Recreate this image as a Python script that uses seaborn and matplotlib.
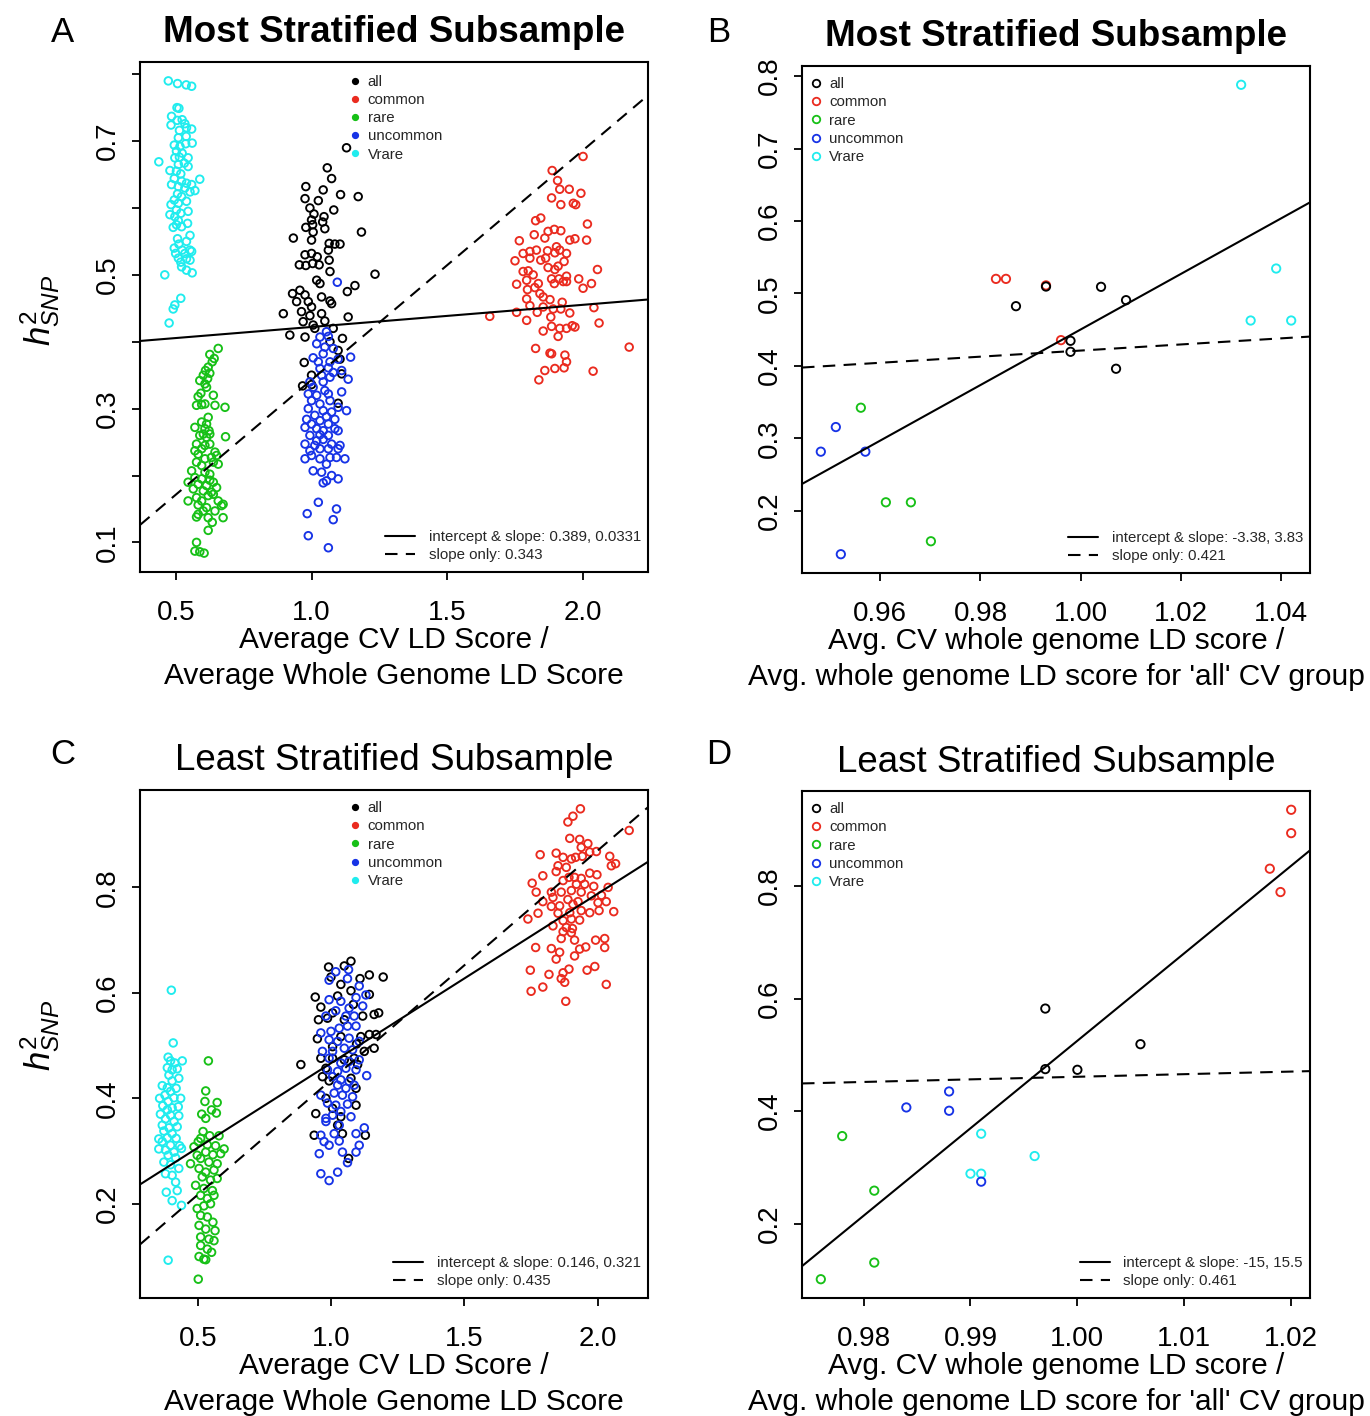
import numpy as np
import pandas as pd
import matplotlib
matplotlib.use("Agg")
import matplotlib.pyplot as plt
import seaborn as sns
from matplotlib.lines import Line2D

# ---------------- data (x, y) pairs ----------------
GROUPS = ["all", "common", "rare", "uncommon", "Vrare"]

# Panel A: Most Stratified Subsample (x = CV LD / whole-genome LD)
A_all = [(1.129,0.690),(1.058,0.660),(1.074,0.644),(0.979,0.632),(1.043,0.627),(1.107,0.620),(1.172,0.617),(0.976,0.614),(1.025,0.611),(0.994,0.600),(1.082,0.597),(1.009,0.591),(1.046,0.587),(1.000,0.582),(0.979,0.571),(1.004,0.575),(1.041,0.579),(1.184,0.564),(1.006,0.564),(1.049,0.569),(0.933,0.555),(1.000,0.552),(1.065,0.547),(1.086,0.546),(1.105,0.546),(1.062,0.537),(0.976,0.530),(1.000,0.532),(1.021,0.527),(0.955,0.515),(0.979,0.514),(1.004,0.517),(1.028,0.515),(1.065,0.522),(1.068,0.505),(1.019,0.492),(1.031,0.487),(1.234,0.501),(1.132,0.475),(1.160,0.484),(0.930,0.472),(0.957,0.477),(0.976,0.470),(0.945,0.460),(0.988,0.460),(1.000,0.452),(1.037,0.467),(1.068,0.461),(1.074,0.457),(0.896,0.442),(0.963,0.445),(0.994,0.439),(1.037,0.442),(1.135,0.437),(0.969,0.430),(1.006,0.425),(1.049,0.431),(1.080,0.420),(0.920,0.410),(0.976,0.407),(1.012,0.420),(1.114,0.405),(1.068,0.400),(1.098,0.387),(0.973,0.369),(1.105,0.374),(1.000,0.350),(1.111,0.352),(0.967,0.334),(1.000,0.336),(1.098,0.308)]
A_common = [(2.001,0.677),(1.887,0.656),(1.907,0.641),(1.915,0.628),(1.950,0.628),(1.993,0.622),(1.885,0.615),(1.919,0.605),(1.965,0.607),(1.974,0.605),(1.826,0.581),(1.845,0.585),(2.017,0.576),(1.821,0.560),(1.860,0.555),(1.872,0.565),(1.895,0.568),(1.919,0.566),(1.952,0.552),(1.971,0.554),(2.014,0.552),(1.766,0.551),(1.780,0.532),(1.805,0.535),(1.829,0.537),(1.870,0.536),(1.903,0.542),(1.940,0.532),(1.750,0.521),(1.805,0.525),(1.845,0.522),(1.863,0.525),(1.897,0.533),(1.915,0.537),(1.931,0.520),(1.780,0.505),(1.799,0.506),(1.817,0.500),(1.872,0.511),(1.897,0.508),(1.909,0.513),(2.054,0.508),(1.756,0.486),(1.793,0.492),(1.836,0.487),(1.885,0.494),(1.912,0.494),(1.940,0.498),(1.985,0.494),(2.001,0.480),(2.032,0.487),(1.796,0.478),(1.823,0.481),(1.842,0.472),(1.854,0.467),(1.895,0.487),(1.928,0.490),(1.940,0.490),(1.793,0.464),(1.879,0.463),(1.924,0.459),(1.657,0.438),(1.756,0.444),(1.805,0.454),(1.832,0.444),(1.854,0.452),(1.891,0.449),(1.919,0.449),(2.041,0.451),(1.793,0.432),(1.882,0.437),(1.952,0.443),(1.854,0.416),(1.885,0.423),(1.909,0.408),(1.915,0.420),(1.940,0.420),(1.961,0.424),(1.971,0.422),(2.060,0.428),(1.826,0.390),(1.879,0.383),(1.885,0.382),(1.934,0.380),(1.940,0.370),(1.860,0.357),(1.897,0.360),(1.931,0.361),(2.038,0.356),(1.838,0.343),(2.171,0.392)]
A_rare = [(0.656,0.390),(0.625,0.381),(0.641,0.375),(0.634,0.370),(0.619,0.362),(0.609,0.357),(0.625,0.353),(0.601,0.350),(0.617,0.345),(0.588,0.342),(0.607,0.337),(0.613,0.332),(0.592,0.323),(0.638,0.320),(0.582,0.318),(0.607,0.307),(0.576,0.305),(0.595,0.306),(0.644,0.305),(0.681,0.302),(0.619,0.287),(0.595,0.280),(0.613,0.277),(0.570,0.272),(0.607,0.270),(0.622,0.267),(0.625,0.262),(0.601,0.262),(0.588,0.260),(0.613,0.257),(0.683,0.258),(0.576,0.247),(0.607,0.245),(0.625,0.247),(0.570,0.237),(0.595,0.240),(0.582,0.232),(0.644,0.235),(0.631,0.227),(0.650,0.230),(0.607,0.225),(0.576,0.220),(0.638,0.220),(0.656,0.217),(0.595,0.215),(0.558,0.207),(0.607,0.205),(0.625,0.202),(0.570,0.197),(0.595,0.195),(0.625,0.193),(0.638,0.190),(0.545,0.190),(0.582,0.187),(0.613,0.185),(0.650,0.182),(0.564,0.180),(0.601,0.177),(0.631,0.175),(0.576,0.167),(0.619,0.170),(0.545,0.162),(0.595,0.162),(0.656,0.162),(0.638,0.172),(0.582,0.156),(0.613,0.152),(0.668,0.155),(0.674,0.157),(0.601,0.147),(0.582,0.142),(0.576,0.138),(0.644,0.147),(0.619,0.137),(0.634,0.130),(0.674,0.137),(0.619,0.118),(0.576,0.100),(0.570,0.087),(0.588,0.086),(0.604,0.084)]
A_uncommon = [(1.055,0.415),(1.031,0.407),(1.062,0.408),(1.019,0.397),(1.049,0.392),(1.080,0.390),(1.043,0.382),(1.006,0.376),(1.025,0.370),(1.068,0.370),(1.098,0.374),(1.144,0.377),(1.031,0.360),(1.062,0.361),(1.080,0.354),(1.111,0.357),(1.037,0.350),(1.068,0.347),(1.135,0.344),(0.994,0.340),(1.043,0.340),(1.006,0.332),(1.049,0.327),(1.111,0.325),(0.988,0.322),(1.019,0.320),(1.062,0.322),(1.000,0.312),(1.031,0.307),(1.068,0.312),(1.098,0.302),(1.129,0.297),(0.988,0.300),(1.043,0.297),(1.074,0.295),(1.012,0.290),(1.055,0.288),(1.086,0.284),(0.982,0.284),(1.031,0.282),(1.000,0.277),(1.062,0.277),(0.976,0.272),(1.019,0.270),(1.086,0.270),(1.043,0.267),(1.098,0.267),(0.994,0.260),(1.031,0.261),(1.062,0.260),(1.019,0.252),(1.043,0.254),(0.976,0.247),(1.012,0.245),(1.074,0.247),(1.105,0.245),(0.994,0.237),(1.031,0.240),(1.062,0.240),(1.098,0.240),(0.976,0.225),(1.000,0.230),(1.031,0.225),(1.068,0.227),(1.092,0.227),(1.123,0.225),(1.055,0.217),(1.006,0.207),(1.037,0.205),(1.074,0.200),(1.098,0.195),(1.043,0.189),(1.055,0.192),(1.025,0.160),(1.092,0.150),(0.984,0.143),(1.080,0.134),(0.988,0.110),(1.062,0.092),(1.095,0.489)]
A_vrare = [(0.472,0.790),(0.506,0.786),(0.538,0.784),(0.558,0.782),(0.504,0.750),(0.511,0.749),(0.484,0.737),(0.505,0.731),(0.523,0.732),(0.533,0.726),(0.558,0.718),(0.482,0.724),(0.513,0.716),(0.539,0.720),(0.509,0.705),(0.538,0.707),(0.560,0.697),(0.494,0.694),(0.515,0.692),(0.536,0.696),(0.502,0.685),(0.523,0.682),(0.545,0.675),(0.496,0.675),(0.513,0.676),(0.437,0.669),(0.509,0.665),(0.531,0.667),(0.545,0.662),(0.478,0.656),(0.502,0.655),(0.518,0.651),(0.588,0.643),(0.494,0.644),(0.521,0.640),(0.539,0.637),(0.558,0.635),(0.484,0.635),(0.509,0.632),(0.533,0.630),(0.570,0.626),(0.552,0.624),(0.506,0.621),(0.521,0.617),(0.494,0.612),(0.539,0.610),(0.509,0.607),(0.482,0.605),(0.502,0.597),(0.545,0.595),(0.518,0.592),(0.478,0.590),(0.496,0.587),(0.509,0.581),(0.543,0.577),(0.502,0.575),(0.490,0.571),(0.521,0.572),(0.552,0.559),(0.506,0.554),(0.539,0.550),(0.511,0.546),(0.494,0.540),(0.523,0.537),(0.552,0.537),(0.499,0.532),(0.533,0.532),(0.558,0.535),(0.509,0.525),(0.539,0.524),(0.518,0.519),(0.552,0.522),(0.521,0.512),(0.539,0.507),(0.560,0.503),(0.459,0.500),(0.518,0.465),(0.496,0.455),(0.490,0.449),(0.475,0.428)]

# Panel B: Most Stratified Subsample, group means
B_all = [(0.9871,0.4823),(0.9931,0.5094),(1.0041,0.5090),(1.0091,0.4906),(0.9980,0.4345),(0.9980,0.4193),(1.0071,0.3959)]
B_common = [(0.9831,0.5200),(0.9851,0.5200),(0.9931,0.5110),(0.9961,0.4354)]
B_rare = [(0.9561,0.3421),(0.9611,0.2115),(0.9661,0.2115),(0.9701,0.1577)]
B_uncommon = [(0.9511,0.3154),(0.9481,0.2814),(0.9570,0.2814),(0.9521,0.1398)]
B_vrare = [(1.0321,0.7880),(1.0391,0.5343),(1.0340,0.4625),(1.0421,0.4625)]

# Panel C: Least Stratified Subsample
C_all = [(1.074,0.660),(0.990,0.649),(1.049,0.651),(1.143,0.634),(1.195,0.630),(0.999,0.630),(1.108,0.627),(1.036,0.616),(1.074,0.604),(0.940,0.592),(1.024,0.594),(1.143,0.597),(0.961,0.573),(1.083,0.578),(1.005,0.562),(1.178,0.562),(1.161,0.559),(0.952,0.549),(0.986,0.552),(1.049,0.549),(1.118,0.556),(0.948,0.513),(1.036,0.517),(1.111,0.517),(1.143,0.521),(1.168,0.521),(1.005,0.498),(1.095,0.503),(1.161,0.495),(0.886,0.464),(0.961,0.476),(1.005,0.476),(1.049,0.473),(1.124,0.489),(1.086,0.476),(0.980,0.457),(1.099,0.464),(0.967,0.441),(0.992,0.433),(1.074,0.438),(0.980,0.400),(1.093,0.419),(0.942,0.371),(1.005,0.381),(1.093,0.387),(1.024,0.349),(1.036,0.365),(0.936,0.330),(1.128,0.330),(1.065,0.286),(1.042,0.333)]
C_common = [(1.935,0.949),(1.907,0.935),(1.888,0.924),(2.118,0.908),(1.895,0.893),(1.932,0.891),(1.963,0.883),(1.938,0.876),(1.784,0.862),(1.844,0.865),(1.870,0.857),(1.901,0.854),(1.917,0.857),(1.942,0.859),(1.970,0.867),(1.995,0.868),(2.045,0.859),(2.051,0.841),(2.067,0.845),(1.851,0.841),(1.882,0.838),(1.794,0.822),(1.844,0.830),(1.892,0.819),(1.913,0.819),(1.938,0.817),(1.970,0.827),(1.997,0.824),(1.754,0.808),(1.870,0.813),(1.920,0.806),(1.951,0.806),(1.985,0.802),(2.039,0.800),(1.769,0.791),(1.826,0.791),(1.863,0.791),(1.901,0.794),(1.938,0.791),(1.976,0.784),(2.014,0.785),(1.794,0.773),(1.832,0.781),(1.888,0.777),(1.926,0.773),(2.001,0.771),(2.032,0.773),(1.826,0.764),(1.857,0.765),(1.907,0.768),(1.776,0.751),(1.851,0.751),(1.895,0.752),(1.938,0.756),(1.970,0.752),(2.005,0.756),(2.060,0.754),(1.738,0.740),(1.870,0.737),(1.901,0.740),(1.932,0.738),(1.832,0.727),(1.882,0.724),(1.905,0.722),(1.870,0.716),(1.901,0.714),(1.767,0.686),(1.863,0.703),(1.913,0.700),(1.826,0.684),(1.857,0.677),(1.932,0.683),(1.955,0.687),(1.992,0.700),(2.026,0.703),(2.026,0.686),(1.844,0.664),(1.913,0.670),(1.747,0.643),(1.817,0.635),(1.870,0.638),(1.892,0.645),(1.960,0.643),(1.989,0.650),(1.863,0.627),(1.876,0.620),(1.794,0.611),(1.750,0.603),(2.032,0.616),(1.880,0.584)]
C_rare = [(0.539,0.471),(0.529,0.414),(0.526,0.394),(0.572,0.392),(0.551,0.378),(0.514,0.370),(0.569,0.372),(0.529,0.362),(0.519,0.337),(0.510,0.324),(0.544,0.329),(0.579,0.329),(0.485,0.308),(0.501,0.318),(0.535,0.312),(0.566,0.310),(0.598,0.304),(0.497,0.292),(0.529,0.298),(0.556,0.293),(0.585,0.295),(0.472,0.276),(0.510,0.286),(0.541,0.279),(0.572,0.276),(0.504,0.267),(0.529,0.260),(0.560,0.264),(0.516,0.251),(0.547,0.245),(0.572,0.248),(0.491,0.235),(0.522,0.229),(0.554,0.225),(0.510,0.216),(0.535,0.210),(0.560,0.216),(0.497,0.191),(0.522,0.196),(0.547,0.200),(0.510,0.178),(0.535,0.175),(0.556,0.165),(0.504,0.159),(0.529,0.152),(0.564,0.149),(0.510,0.137),(0.541,0.133),(0.560,0.130),(0.510,0.121),(0.535,0.114),(0.551,0.108),(0.504,0.100),(0.522,0.095),(0.529,0.094),(0.501,0.057)]
C_uncommon = [(1.017,0.640),(1.065,0.644),(0.992,0.624),(1.061,0.627),(1.105,0.613),(1.130,0.596),(0.992,0.587),(1.036,0.584),(1.093,0.591),(1.067,0.571),(1.118,0.575),(1.017,0.566),(0.980,0.556),(1.055,0.556),(1.086,0.556),(0.961,0.524),(0.999,0.527),(1.030,0.533),(1.061,0.537),(1.093,0.537),(0.992,0.511),(1.024,0.508),(1.067,0.514),(1.105,0.508),(0.967,0.489),(1.005,0.489),(1.049,0.495),(1.080,0.492),(0.992,0.476),(1.036,0.467),(1.067,0.470),(1.105,0.473),(0.986,0.454),(1.024,0.451),(1.055,0.457),(1.093,0.454),(1.005,0.441),(1.036,0.435),(1.067,0.432),(1.133,0.443),(1.024,0.425),(1.055,0.419),(1.086,0.425),(0.961,0.406),(1.011,0.410),(1.042,0.406),(1.080,0.403),(0.986,0.391),(1.017,0.387),(1.061,0.389),(0.980,0.362),(1.005,0.368),(1.036,0.375),(1.074,0.365),(0.980,0.356),(1.030,0.349),(1.124,0.344),(0.961,0.330),(1.011,0.333),(1.093,0.333),(0.973,0.318),(1.030,0.319),(1.105,0.311),(0.955,0.295),(0.992,0.311),(1.042,0.298),(1.093,0.298),(1.061,0.278),(0.961,0.257),(0.992,0.244),(1.024,0.260)]
C_vrare = [(0.400,0.605),(0.407,0.505),(0.388,0.478),(0.441,0.471),(0.397,0.471),(0.413,0.467),(0.385,0.458),(0.403,0.454),(0.422,0.456),(0.391,0.444),(0.428,0.438),(0.403,0.433),(0.366,0.424),(0.385,0.420),(0.418,0.419),(0.397,0.413),(0.376,0.406),(0.356,0.400),(0.410,0.401),(0.435,0.400),(0.388,0.394),(0.368,0.386),(0.403,0.382),(0.426,0.384),(0.385,0.378),(0.359,0.370),(0.397,0.368),(0.428,0.367),(0.378,0.361),(0.410,0.356),(0.366,0.349),(0.391,0.344),(0.422,0.346),(0.372,0.338),(0.403,0.333),(0.353,0.323),(0.385,0.325),(0.418,0.324),(0.366,0.318),(0.397,0.311),(0.431,0.310),(0.353,0.304),(0.378,0.302),(0.410,0.298),(0.438,0.305),(0.388,0.292),(0.416,0.287),(0.372,0.279),(0.397,0.274),(0.428,0.267),(0.378,0.257),(0.403,0.254),(0.416,0.241),(0.422,0.225),(0.381,0.222),(0.403,0.206),(0.438,0.197),(0.388,0.093)]

# Panel D: Least Stratified Subsample, group means
D_all = [(0.9970,0.5822),(0.9970,0.4746),(1.0000,0.4734),(1.0059,0.5189)]
D_common = [(1.0200,0.9355),(1.0200,0.8940),(1.0180,0.8308),(1.0190,0.7893)]
D_rare = [(0.9780,0.3556),(0.9810,0.2586),(0.9810,0.1308),(0.9760,0.1012)]
D_uncommon = [(0.9840,0.4065),(0.9880,0.4349),(0.9880,0.4006),(0.9910,0.2746)]
D_vrare = [(0.9910,0.3598),(0.9900,0.2888),(0.9910,0.2888),(0.9960,0.3201)]

# regression fits (intercept, slope) and slope-only fits, plus legend texts
A_fit = (0.389, 0.0331); A_slope_only = 0.343
B_fit = (-3.38, 3.83);   B_slope_only = 0.421
C_fit = (0.146, 0.321);  C_slope_only = 0.435
D_fit = (-15.025, 15.55); D_slope_only = 0.461
A_fit_text = ["intercept & slope: 0.389, 0.0331", "slope only: 0.343"]
B_fit_text = ["intercept & slope: -3.38, 3.83", "slope only: 0.421"]
C_fit_text = ["intercept & slope: 0.146, 0.321", "slope only: 0.435"]
D_fit_text = ["intercept & slope: -15, 15.5", "slope only: 0.461"]

A_xticks = [0.5, 1.0, 1.5, 2.0]; A_xticklabels = ["0.5", "1.0", "1.5", "2.0"]
A_yticks = [0.1, 0.2, 0.3, 0.4, 0.5, 0.6, 0.7, 0.8]
A_yticklabels = ["0.1", "", "0.3", "", "0.5", "", "0.7", ""]
B_xticks = [0.96, 0.98, 1.00, 1.02, 1.04]; B_xticklabels = ["0.96", "0.98", "1.00", "1.02", "1.04"]
B_yticks = [0.2, 0.3, 0.4, 0.5, 0.6, 0.7, 0.8]; B_yticklabels = ["0.2", "0.3", "0.4", "0.5", "0.6", "0.7", "0.8"]
C_xticks = [0.5, 1.0, 1.5, 2.0]; C_xticklabels = ["0.5", "1.0", "1.5", "2.0"]
C_yticks = [0.2, 0.4, 0.6, 0.8]; C_yticklabels = ["0.2", "0.4", "0.6", "0.8"]
D_xticks = [0.98, 0.99, 1.00, 1.01, 1.02]; D_xticklabels = ["0.98", "0.99", "1.00", "1.01", "1.02"]
D_yticks = [0.2, 0.4, 0.6, 0.8]; D_yticklabels = ["0.2", "0.4", "0.6", "0.8"]

XLAB_LEFT = "Average CV LD Score /\nAverage Whole Genome LD Score"
XLAB_RIGHT = "Avg. CV whole genome LD score /\nAvg. whole genome LD score for 'all' CV group"

# ---------------- style ----------------
sns.set_theme(style="ticks")
plt.rcParams["font.family"] = ["Liberation Sans", "DejaVu Sans"]
plt.rcParams["mathtext.fontset"] = "custom"
plt.rcParams["mathtext.rm"] = "Liberation Sans"
plt.rcParams["mathtext.it"] = "Liberation Sans:italic"
plt.rcParams["mathtext.bf"] = "Liberation Sans:bold"

COLORS = {"all": "#000000", "common": "#EA2B1F", "rare": "#17C017",
          "uncommon": "#1733E6", "Vrare": "#20ECEE"}

W, H = 1370, 1416
fig = plt.figure(figsize=(W / 100, H / 100), dpi=100)
fig.patch.set_facecolor("white")


def add_ax(left, top, right, bottom):
    return fig.add_axes([left / W, 1 - bottom / H, (right - left) / W, (bottom - top) / H])


def r_lim(v):
    lo, hi = float(np.min(v)), float(np.max(v))
    d = (hi - lo) * 0.04
    return lo - d, hi + d


def draw_panel(ax, data, order, fit, slope_only, fit_text, xticks, xtl, yticks, ytl,
               title, bold, filled, size, gleg_xy, lleg_xy, xlabel, ax_h):
    frames = [pd.DataFrame(data[g], columns=["x", "y"]).assign(group=g) for g in GROUPS]
    df = pd.concat(frames, ignore_index=True)
    for g in order:
        sub = df[df["group"] == g]
        sns.scatterplot(data=sub, x="x", y="y", ax=ax, s=size, color=COLORS[g],
                        legend=False, zorder=3)
        pc = ax.collections[-1]
        pc.set_facecolor("none")
        pc.set_edgecolor(COLORS[g])
        pc.set_linewidth(1.35)
    ax.set_xlim(*r_lim(df["x"]))
    ax.set_ylim(*r_lim(df["y"]))
    ax.axline((0, fit[0]), slope=fit[1], color="black", lw=1.5, zorder=4)
    ax.axline((0, 0), slope=slope_only, color="black", lw=1.5, ls=(0, (6, 4)), zorder=4)

    ax.set_xticks(xticks)
    ax.set_xticklabels(xtl)
    ax.set_yticks(yticks)
    ax.set_yticklabels(ytl, rotation=90, va="center")
    ax.tick_params(axis="both", direction="out", length=6, width=1.3, labelsize=20,
                   colors="black")
    ax.tick_params(axis="x", pad=14.5)
    ax.tick_params(axis="y", pad=8)
    for sp in ax.spines.values():
        sp.set_visible(True)
        sp.set_linewidth(1.5)
        sp.set_color("black")
    ax.grid(False)
    ax.set_ylabel("")
    ax.set_xlabel(xlabel, fontsize=21.5, linespacing=1.35, color="black")
    ax.xaxis.set_label_coords(0.5, -54 / ax_h)

    ax.text(0.5, 1 + 29 / ax_h, title, transform=ax.transAxes, ha="center", va="center",
            fontsize=26.5, fontweight="bold" if bold else "normal", color="black")

    if filled:
        gh = [Line2D([], [], ls="none", marker="o", markersize=4.2, markerfacecolor=COLORS[g],
                     markeredgecolor=COLORS[g]) for g in GROUPS]
    else:
        gh = [Line2D([], [], ls="none", marker="o", markersize=5.4, markerfacecolor="none",
                     markeredgecolor=COLORS[g], markeredgewidth=1.3) for g in GROUPS]
    leg1 = ax.legend(gh, GROUPS, loc="upper left", bbox_to_anchor=gleg_xy, frameon=False,
                     fontsize=10.8, handlelength=0.6, handletextpad=0.55, labelspacing=0.28,
                     borderpad=0, borderaxespad=0)
    ax.add_artist(leg1)
    lh = [Line2D([], [], color="black", lw=1.5),
          Line2D([], [], color="black", lw=1.5, ls=(0, (6, 4)))]
    ax.legend(lh, fit_text, loc="lower right", bbox_to_anchor=lleg_xy, frameon=False,
              fontsize=10.8, handlelength=2.0, handletextpad=0.9, labelspacing=0.25,
              borderpad=0, borderaxespad=0)


axA = add_ax(140, 62, 648, 572)
axB = add_ax(802, 66, 1310, 573)
axC = add_ax(140, 790, 648, 1298)
axD = add_ax(802, 791, 1310, 1298)

order_scatter = ["all", "common", "rare", "uncommon", "Vrare"]
order_means = ["common", "Vrare", "all", "rare", "uncommon"]

draw_panel(axA, dict(zip(GROUPS, [A_all, A_common, A_rare, A_uncommon, A_vrare])), order_scatter,
           A_fit, A_slope_only, A_fit_text, A_xticks, A_xticklabels, A_yticks, A_yticklabels,
           "Most Stratified Subsample", True, True, 30, (0.414, 0.975), (0.986, 0.02),
           XLAB_LEFT, 510)
draw_panel(axB, dict(zip(GROUPS, [B_all, B_common, B_rare, B_uncommon, B_vrare])), order_means,
           B_fit, B_slope_only, B_fit_text, B_xticks, B_xticklabels, B_yticks, B_yticklabels,
           "Most Stratified Subsample", True, False, 36, (0.019, 0.978), (0.986, 0.02),
           XLAB_RIGHT, 507)
draw_panel(axC, dict(zip(GROUPS, [C_all, C_common, C_rare, C_uncommon, C_vrare])), order_scatter,
           C_fit, C_slope_only, C_fit_text, C_xticks, C_xticklabels, C_yticks, C_yticklabels,
           "Least Stratified Subsample", False, True, 30, (0.414, 0.978), (0.986, 0.02),
           XLAB_LEFT, 508)
draw_panel(axD, dict(zip(GROUPS, [D_all, D_common, D_rare, D_uncommon, D_vrare])), order_means,
           D_fit, D_slope_only, D_fit_text, D_xticks, D_xticklabels, D_yticks, D_yticklabels,
           "Least Stratified Subsample", False, False, 36, (0.019, 0.978), (0.986, 0.02),
           XLAB_RIGHT, 507)

# panel letters and y labels
for letter, (px, py) in zip("ABCD", [(63, 33), (719, 33), (63, 755), (719, 755)]):
    fig.text(px / W, 1 - py / H, letter, ha="center", va="center", fontsize=25, color="black")
for py in (310, 1035):
    fig.text(40 / W, 1 - py / H, r"$h^2_{SNP}$", rotation=90, ha="center", va="center",
             fontsize=25, color="black")

fig.savefig("out.png", dpi=100, facecolor="white")
